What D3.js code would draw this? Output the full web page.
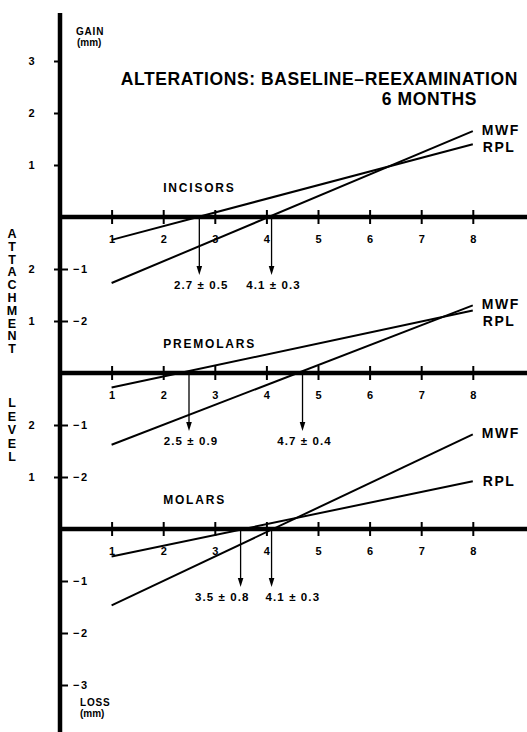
<!DOCTYPE html>
<html>
<head>
<meta charset="utf-8">
<script src="https://cdn.jsdelivr.net/npm/d3@7"></script>
<style>
  body { margin: 0; background: #fff; }
  text { font-family: "Liberation Sans", Arial, Helvetica, sans-serif; font-weight: bold; fill: #000; }
</style>
</head>
<body>
<svg id="chart" width="527" height="732"></svg>
<script>
// data
const groups = ["INCISORS", "PREMOLARS", "MOLARS"];
const seriesNames = ["MWF", "RPL"];
const xTicks = [1, 2, 3, 4, 5, 6, 7, 8];
const lineX = [1, 8];
const mwfStart = [-1.27, -1.38, -1.47];
const mwfEnd = [1.65, 1.30, 1.82];
const rplStart = [-0.44, -0.28, -0.53];
const rplEnd = [1.40, 1.20, 0.92];
const rplMean = [2.7, 2.5, 3.5];
const rplSd = [0.5, 0.9, 0.8];
const mwfMean = [4.1, 4.7, 4.1];
const mwfSd = [0.3, 0.4, 0.3];
const leftTicks = [[1, 2, 3], [1, 2], [1, 2]];
const rightTicks = [[-1, -2], [-1, -2], [-1, -2, -3]];

const svg = d3.select("#chart");
const width = 527, height = 732;
const axisX = 60;
const unitX = 51.6, unitY = 52;
const baselines = [217, 373, 529];

const x = d3.scaleLinear().domain([0, 9]).range([axisX, axisX + 9 * unitX]);
const yScales = baselines.map(b => d3.scaleLinear().domain([0, 1]).range([b, b - unitY]));
const fmt = d3.format("d");

// title
svg.append("text").attr("x", 518).attr("y", 85).attr("text-anchor", "end")
  .attr("font-size", 17.5).attr("letter-spacing", 0.6).text("ALTERATIONS: BASELINE\u2013REEXAMINATION");
svg.append("text").attr("x", 477).attr("y", 105).attr("text-anchor", "end")
  .attr("font-size", 17.5).attr("letter-spacing", 0.6).text("6 MONTHS");

// gain / loss captions
svg.append("text").attr("x", 76).attr("y", 35).attr("font-size", 10).attr("letter-spacing", 0.8).text("GAIN");
svg.append("text").attr("x", 77).attr("y", 46).attr("font-size", 10).text("(mm)");
svg.append("text").attr("x", 80).attr("y", 706).attr("font-size", 10).attr("letter-spacing", 0.8).text("LOSS");
svg.append("text").attr("x", 80).attr("y", 717).attr("font-size", 10).text("(mm)");

// vertical label, stacked letters
const word1 = "ATTACHMENT".split(""), word2 = "LEVEL".split("");
svg.selectAll("text.w1").data(word1).enter().append("text").attr("class", "w1")
  .attr("x", 12).attr("y", (d, i) => 238 + i * 12.8).attr("text-anchor", "middle")
  .attr("font-size", 12.5).text(d => d);
svg.selectAll("text.w2").data(word2).enter().append("text").attr("class", "w2")
  .attr("x", 12).attr("y", (d, i) => 407 + i * 13.6).attr("text-anchor", "middle")
  .attr("font-size", 12.5).text(d => d);

// main vertical axis
svg.append("line").attr("x1", axisX).attr("x2", axisX).attr("y1", 13).attr("y2", height)
  .attr("stroke", "#000").attr("stroke-width", 4.5);

const line = d3.line().x(d => x(d[0]));

groups.forEach((g, i) => {
  const y = yScales[i];
  const base = baselines[i];

  // y ticks: gains on the left, losses on the right
  const gl = svg.append("g").attr("transform", `translate(${axisX},0)`)
    .call(d3.axisLeft(y).tickValues(leftTicks[i]).tickFormat(fmt).tickSize(6).tickPadding(18));
  const gr = svg.append("g").attr("transform", `translate(${axisX},0)`)
    .call(d3.axisRight(y).tickValues(rightTicks[i]).tickFormat(fmt).tickSize(8).tickPadding(5));
  [gl, gr].forEach(a => {
    a.select(".domain").remove();
    a.attr("font-family", null).attr("font-size", 11);
    a.selectAll("line").attr("stroke-width", 2);
    a.selectAll("text").attr("letter-spacing", 1.5);
  });

  // horizontal axis
  svg.append("line").attr("x1", axisX).attr("x2", width).attr("y1", base).attr("y2", base)
    .attr("stroke", "#000").attr("stroke-width", 4.5);
  const gx = svg.append("g").attr("transform", `translate(0,${base})`)
    .call(d3.axisBottom(x).tickValues(xTicks).tickFormat(fmt).tickSize(7).tickPadding(11));
  gx.select(".domain").remove();
  gx.attr("font-family", null).attr("font-size", 11);
  gx.selectAll(".tick line").attr("y1", -7).attr("stroke-width", 2);

  // group label
  svg.append("text").attr("x", x(2)).attr("y", base - 25)
    .attr("font-size", 12).attr("letter-spacing", 1.8).text(g);

  // regression lines
  const series = [
    { name: seriesNames[0], pts: [[lineX[0], mwfStart[i]], [lineX[1], mwfEnd[i]]] },
    { name: seriesNames[1], pts: [[lineX[0], rplStart[i]], [lineX[1], rplEnd[i]]] }
  ];
  line.y(d => y(d[1]));
  svg.selectAll(null).data(series).enter().append("path")
    .attr("d", d => line(d.pts)).attr("fill", "none")
    .attr("stroke", "#000").attr("stroke-width", 2);

  // end labels
  const yM = y(mwfEnd[i]) + 4;
  const yR = Math.max(y(rplEnd[i]) + 5, yM + 17);
  svg.append("text").attr("x", x(lineX[1]) + 9).attr("y", yM)
    .attr("font-size", 14).attr("letter-spacing", 1.5).text(seriesNames[0]);
  svg.append("text").attr("x", x(lineX[1]) + 10).attr("y", yR)
    .attr("font-size", 14).attr("letter-spacing", 1.5).text(seriesNames[1]);

  // arrows at zero crossings
  const marks = [
    { m: rplMean[i], sd: rplSd[i] },
    { m: mwfMean[i], sd: mwfSd[i] }
  ];
  const close = x(marks[1].m) - x(marks[0].m) < 45;
  const tip = base + 58;
  marks.forEach((k, j) => {
    const ax = x(k.m);
    svg.append("line").attr("x1", ax).attr("x2", ax).attr("y1", base).attr("y2", tip - 6)
      .attr("stroke", "#000").attr("stroke-width", 1.3);
    svg.append("path").attr("d", `M${ax - 2.8},${tip - 9}L${ax + 2.8},${tip - 9}L${ax},${tip}Z`)
      .attr("fill", "#000");
    const t = svg.append("text").attr("y", base + 72).attr("font-size", 11.5)
      .attr("letter-spacing", 1.1).text(`${k.m.toFixed(1)} \u00b1 ${k.sd.toFixed(1)}`);
    if (close) {
      t.attr("x", j === 0 ? ax + 9 : ax - 6).attr("text-anchor", j === 0 ? "end" : "start");
    } else {
      t.attr("x", ax + 2).attr("text-anchor", "middle");
    }
  });
});
</script>
</body>
</html>
